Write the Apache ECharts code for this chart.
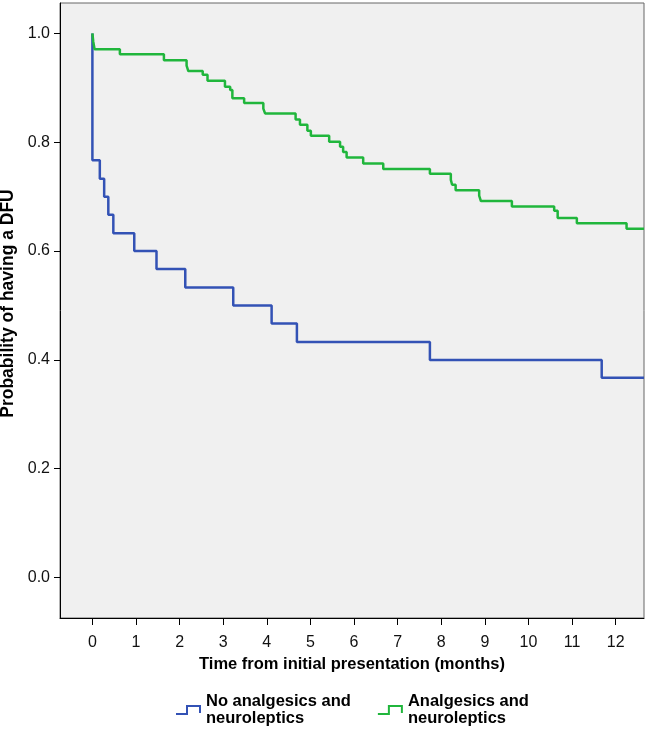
<!DOCTYPE html>
<html>
<head>
<meta charset="utf-8">
<script src="https://cdn.jsdelivr.net/npm/echarts@6/dist/echarts.min.js"></script>
<style>
html,body{margin:0;padding:0;background:#fff;}
#chart{width:646px;height:729px;}
</style>
</head>
<body>
<div id="chart"></div>
<script>
// Kaplan-Meier step points [time in months, probability]
var seriesNames = ['No analgesics and neuroleptics', 'Analgesics and neuroleptics'];
var noAnalgesicsTimes = [0, 0, 0.17, 0.27, 0.365, 0.48, 0.96, 1.47, 2.13, 3.23, 4.11, 4.69, 7.74, 11.68, 12.65];
var noAnalgesicsValues = [1.0, 0.767, 0.733, 0.700, 0.667, 0.633, 0.600, 0.567, 0.533, 0.500, 0.467, 0.433, 0.400, 0.367, 0.367];
var analgesicsTimes = [0, 0.02, 0.05, 0.63, 1.64, 2.16, 2.20, 2.53, 2.64, 3.04, 3.16, 3.21, 3.48, 3.92, 3.96, 4.66, 4.76, 4.93, 5.01, 5.43, 5.68, 5.75, 5.83, 6.21, 6.67, 7.74, 8.22, 8.25, 8.33, 8.87, 8.91, 9.62, 10.59, 10.67, 11.11, 12.25, 12.65];
var analgesicsValues = [1.0, 0.985, 0.971, 0.962, 0.951, 0.941, 0.931, 0.924, 0.913, 0.902, 0.896, 0.881, 0.872, 0.862, 0.853, 0.842, 0.832, 0.821, 0.812, 0.801, 0.792, 0.782, 0.772, 0.761, 0.751, 0.742, 0.731, 0.722, 0.712, 0.702, 0.692, 0.682, 0.674, 0.661, 0.651, 0.641, 0.641];
var xTicks = [0,1,2,3,4,5,6,7,8,9,10,11,12];
var yTicks = [0, 0.2, 0.4, 0.6, 0.8, 1.0];

function pairs(xs, ys){ return xs.map(function(x,i){ return [x, ys[i]]; }); }

var font = '"Liberation Sans", Arial, sans-serif';
var iconPath = 'path://M0,8 L10,8 L10,0 L25,0 L25,8 L23,8 L23,2 L12,2 L12,10 L0,10 Z';

var chart = echarts.init(document.getElementById('chart'), null, {renderer:'canvas'});
chart.setOption({
  animation: false,
  backgroundColor: '#ffffff',
  textStyle: {fontFamily: font},
  grid: {
    left: 60, top: 3, right: 2, bottom: 111,
    outerBoundsMode: 'none', containLabel: false,
    show: true, backgroundColor: '#f0f0f0', borderColor: '#666', borderWidth: 1
  },
  xAxis: {
    type: 'value', min: -0.743, max: 12.65,
    name: 'Time from initial presentation (months)',
    nameLocation: 'middle', nameGap: 31,
    nameTextStyle: {fontFamily: font, fontSize: 16.5, fontWeight: 'bold', color: '#000'},
    axisLine: {show: true, onZero: false, lineStyle: {color: '#000', width: 1}},
    axisTick: {show: true, length: 7, customValues: xTicks, lineStyle: {color: '#000'}},
    axisLabel: {customValues: xTicks, margin: 17, fontFamily: font, fontSize: 16, color: '#111',
      formatter: function(v){ return String(v); }},
    splitLine: {show: false}
  },
  yAxis: {
    type: 'value', min: -0.0744, max: 1.056,
    name: 'Probability of having a DFU',
    nameLocation: 'middle', nameGap: 31, nameRotate: 90,
    nameTextStyle: {fontFamily: font, fontSize: 17.5, fontWeight: 'bold', color: '#000', padding: [0, 0, -4, 14]},
    axisLine: {show: true, onZero: false, lineStyle: {color: '#000', width: 1}},
    axisTick: {show: true, length: 6, customValues: yTicks, lineStyle: {color: '#000'}},
    axisLabel: {customValues: yTicks, margin: 10, fontFamily: font, fontSize: 16, color: '#111',
      formatter: function(v){ return v.toFixed(1); }},
    splitLine: {show: false}
  },
  legend: {
    left: 171, top: 688, orient: 'horizontal',
    itemWidth: 25, itemHeight: 10, itemGap: 27,
    icon: iconPath,
    formatter: function(n){ return n.replace(' and ', ' and\n'); },
    textStyle: {fontFamily: font, fontSize: 16.5, fontWeight: 'bold', color: '#000', lineHeight: 17}
  },
  series: [
    {
      name: seriesNames[0], type: 'line', step: 'end', showSymbol: false, symbol: 'none',
      data: pairs(noAnalgesicsTimes, noAnalgesicsValues),
      lineStyle: {color: '#3352b5', width: 2.5}, itemStyle: {color: '#3352b5'}, clip: true
    },
    {
      name: seriesNames[1], type: 'line', step: 'end', showSymbol: false, symbol: 'none',
      data: pairs(analgesicsTimes, analgesicsValues),
      lineStyle: {color: '#20b63c', width: 2.5}, itemStyle: {color: '#20b63c'}, clip: true
    }
  ]
});
</script>
</body>
</html>
